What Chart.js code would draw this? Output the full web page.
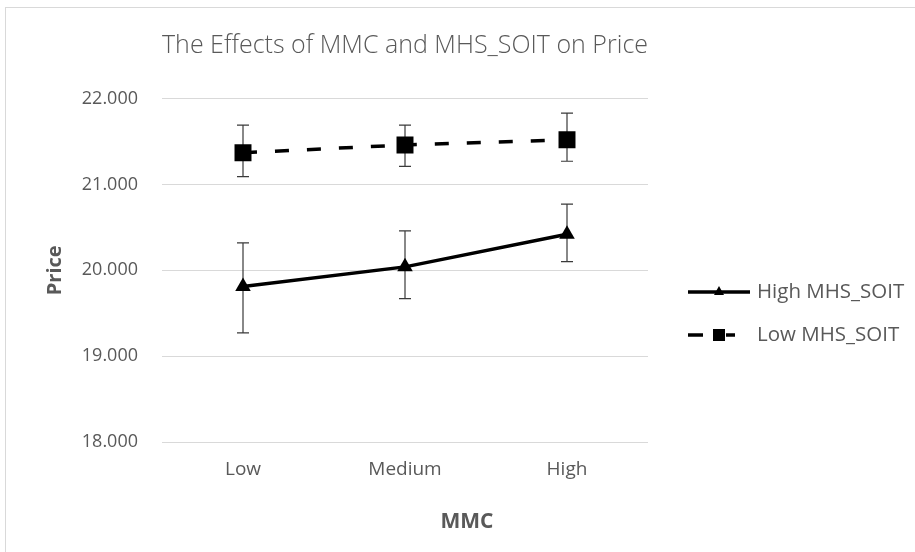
<!DOCTYPE html>
<html>
<head>
<meta charset="utf-8">
<script src="https://cdn.jsdelivr.net/npm/chart.js@4/dist/chart.umd.min.js"></script>
<style>
  html, body { margin: 0; padding: 0; background: #fff; }
  #wrap { position: relative; width: 915px; height: 552px; overflow: hidden; }
  #frame { position: absolute; left: 5px; top: 7px; width: 940px; height: 580px; border: 1px solid #d9d9d9; box-sizing: border-box; }
  canvas { position: absolute; left: 0; top: 0; }
</style>
</head>
<body>
<div id="wrap">
  <div id="frame"></div>
  <canvas id="chart" width="915" height="552"></canvas>
</div>
<script>
// MMC levels on the x axis
const categories = ['Low', 'Medium', 'High'];

// High MHS_SOIT (solid line, triangles)
const highMean  = [19.81, 20.04, 20.42];
const highUpper = [20.32, 20.46, 20.77];
const highLower = [19.27, 19.67, 20.10];

// Low MHS_SOIT (dashed line, squares)
const lowMean  = [21.37, 21.46, 21.52];
const lowUpper = [21.69, 21.69, 21.83];
const lowLower = [21.09, 21.21, 21.27];

const yTicks = [18, 19, 20, 21, 22];

const TEXT = '#595959';
const FONT = "'Open Sans', sans-serif";

// Error bars drawn from the upper/lower arrays through the y scale
const errorBars = {
  id: 'errorBars',
  beforeDatasetsDraw(chart) {
    const ctx = chart.ctx;
    const y = chart.scales.y;
    ctx.save();
    ctx.strokeStyle = '#3a3a3a';
    ctx.lineWidth = 1.2;
    chart.data.datasets.forEach((ds, i) => {
      const meta = chart.getDatasetMeta(i);
      meta.data.forEach((pt, j) => {
        const top = y.getPixelForValue(ds.upper[j]);
        const bot = y.getPixelForValue(ds.lower[j]);
        const x = pt.x;
        ctx.beginPath();
        ctx.moveTo(x, top); ctx.lineTo(x, bot);
        ctx.moveTo(x - 6, top); ctx.lineTo(x + 6, top);
        ctx.moveTo(x - 6, bot); ctx.lineTo(x + 6, bot);
        ctx.stroke();
      });
    });
    ctx.restore();
  }
};

// Legend on the right side, line + marker like Excel
const sideLegend = {
  id: 'sideLegend',
  afterDraw(chart) {
    const ctx = chart.ctx;
    const x0 = 688;
    const rows = [292, 335];
    ctx.save();
    chart.data.datasets.forEach((ds, i) => {
      const yy = rows[i];
      ctx.strokeStyle = '#000';
      ctx.fillStyle = '#000';
      ctx.lineWidth = 3.5;
      if (i === 0) {
        ctx.beginPath(); ctx.moveTo(x0, yy); ctx.lineTo(x0 + 62, yy); ctx.stroke();
        ctx.beginPath();
        ctx.moveTo(x0 + 31, yy - 6);
        ctx.lineTo(x0 + 36, yy + 3);
        ctx.lineTo(x0 + 26, yy + 3);
        ctx.closePath(); ctx.fill();
      } else {
        ctx.beginPath(); ctx.moveTo(x0, yy); ctx.lineTo(x0 + 15, yy); ctx.stroke();
        ctx.beginPath(); ctx.moveTo(x0 + 38, yy); ctx.lineTo(x0 + 47, yy); ctx.stroke();
        ctx.fillRect(x0 + 25, yy - 6, 12, 12);
      }
      ctx.fillStyle = TEXT;
      ctx.font = '20.5px ' + FONT;
      ctx.textBaseline = 'middle';
      ctx.textAlign = 'left';
      ctx.fillText(ds.label, 757, yy);
    });
    ctx.restore();
  }
};

// x axis title, centred on the whole chart like Excel does
const xTitle = {
  id: 'xTitle',
  afterDraw(chart) {
    const ctx = chart.ctx;
    ctx.save();
    ctx.fillStyle = TEXT;
    ctx.font = 'bold 21px ' + FONT;
    ctx.textAlign = 'center';
    ctx.textBaseline = 'middle';
    ctx.fillText('MMC', 467, 522);
    ctx.restore();
  }
};

new Chart(document.getElementById('chart'), {
  type: 'line',
  data: {
    labels: categories,
    datasets: [
      {
        label: 'High MHS_SOIT',
        data: highMean,
        upper: highUpper,
        lower: highLower,
        borderColor: '#000',
        backgroundColor: '#000',
        borderWidth: 3.5,
        pointStyle: 'triangle',
        pointRadius: 9,
        pointBorderWidth: 0,
        tension: 0
      },
      {
        label: 'Low MHS_SOIT',
        data: lowMean,
        upper: lowUpper,
        lower: lowLower,
        borderColor: '#000',
        backgroundColor: '#000',
        borderWidth: 3.5,
        borderDash: [14, 18],
        pointStyle: 'rect',
        pointRadius: 12,
        pointBorderWidth: 0,
        tension: 0
      }
    ]
  },
  options: {
    responsive: false,
    animation: false,
    events: [],
    layout: { padding: { left: 0, right: 267, top: 0, bottom: 0 } },
    plugins: {
      legend: { display: false },
      tooltip: { enabled: false },
      title: {
        display: true,
        text: 'The Effects of MMC and MHS_SOIT on Price',
        color: TEXT,
        fullSize: false,
        font: { family: FONT, size: 25.5, weight: 300 },
        padding: { top: 30, bottom: 38 }
      }
    },
    scales: {
      x: {
        offset: true,
        grid: { display: false, drawTicks: false },
        border: { display: false },
        ticks: { color: TEXT, font: { family: FONT, size: 19 }, padding: 16 },
        afterFit(scale) { scale.height = 110; }
      },
      y: {
        min: 18,
        max: 22,
        afterBuildTicks(scale) { scale.ticks = yTicks.map(v => ({ value: v })); },
        grid: { color: '#d9d9d9', lineWidth: 1, drawTicks: false },
        border: { display: false },
        ticks: {
          color: TEXT,
          font: { family: FONT, size: 18 },
          padding: 24,
          callback: v => v.toFixed(3)
        },
        title: {
          display: true,
          text: 'Price',
          color: TEXT,
          font: { family: FONT, size: 20, weight: 'bold' },
          padding: { top: 43, bottom: 0 }
        },
        afterFit(scale) { scale.width = 162; }
      }
    }
  },
  plugins: [errorBars, sideLegend, xTitle]
});
</script>
</body>
</html>
